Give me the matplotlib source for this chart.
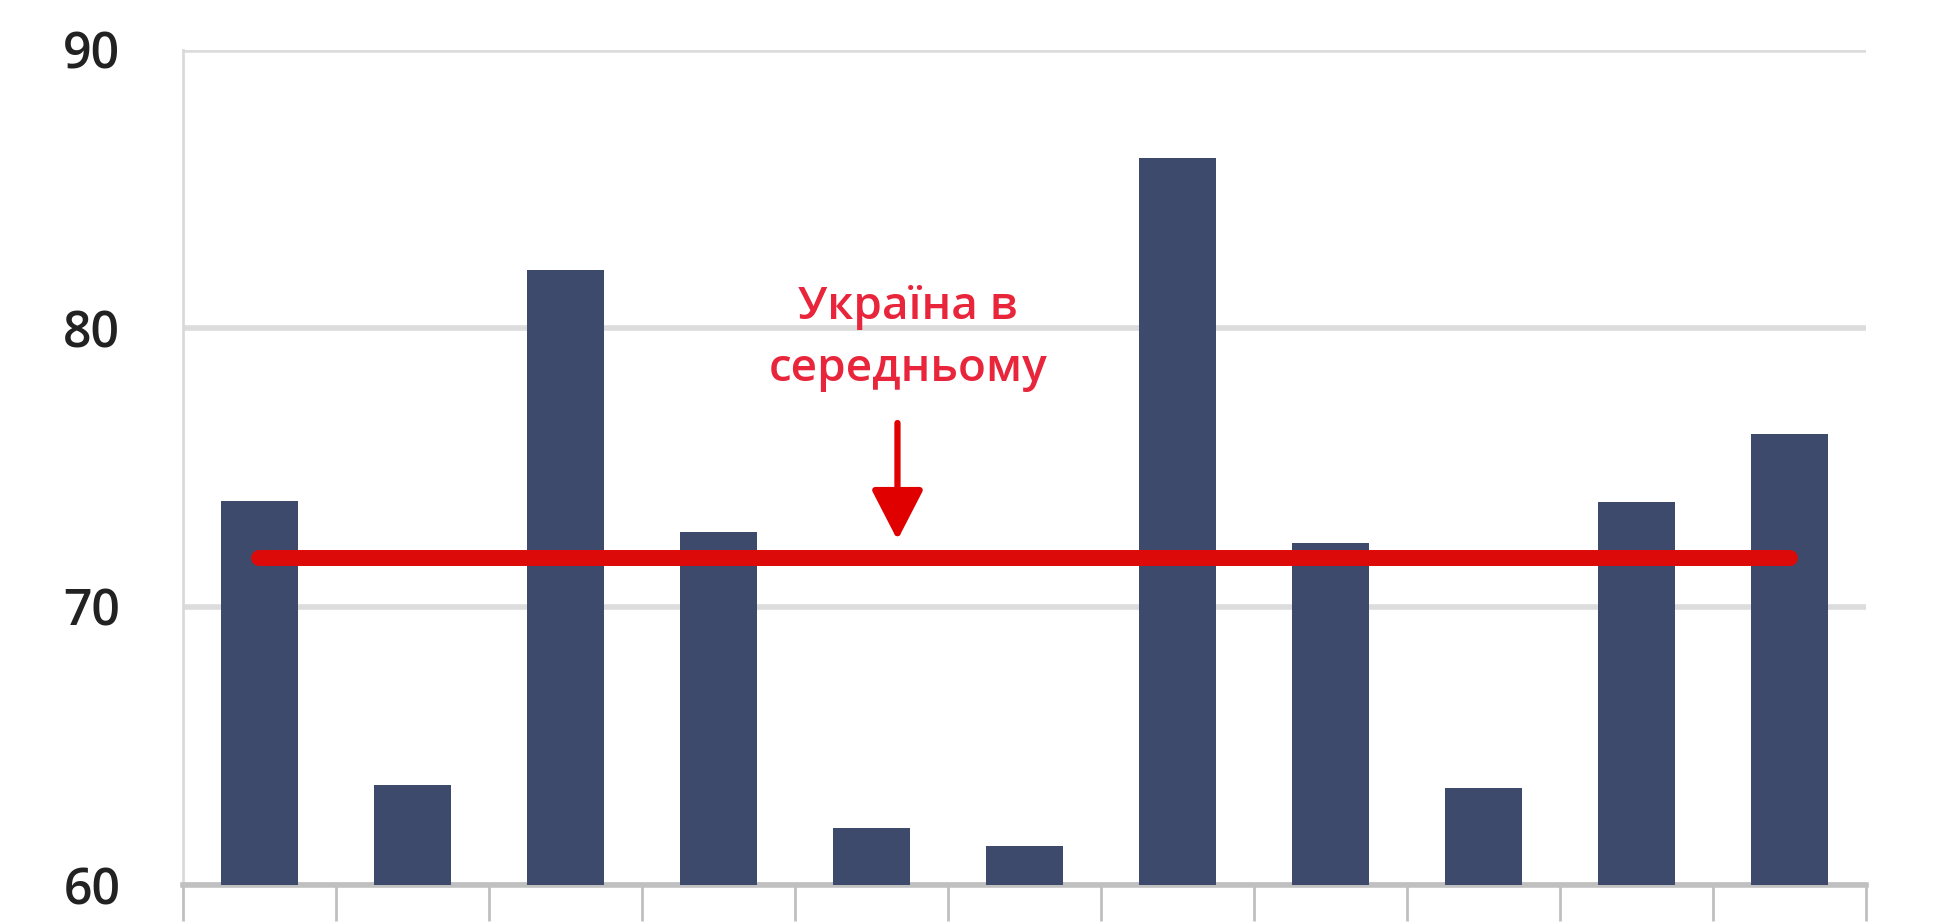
import matplotlib
matplotlib.use("Agg")
import matplotlib.pyplot as plt
import numpy as np

categories = ["1", "2", "3", "4", "5", "6", "7", "8", "9", "10", "11"]
values = [73.8, 63.6, 82.1, 72.7, 62.05, 61.4, 86.1, 72.3, 63.5, 73.75, 76.2]
ukraine_avg = 71.75
yticks = [60, 70, 80, 90]
annot_text = "Україна в\nсередньому"

fig = plt.figure(figsize=(19.44, 9.24), dpi=100)
ax = fig.add_axes([0.094, 0.042, 0.866, 0.904])

x = np.arange(len(categories))
ax.bar(x, [v - 60 for v in values], bottom=60, width=0.5, color="#3d4a6b", zorder=3)
ax.plot([x[0], x[-1]], [ukraine_avg, ukraine_avg], color="#dd0a0a", lw=11.5,
        solid_capstyle="round", zorder=4)

ax.set_xlim(-0.5, len(categories) - 0.5)
ax.set_ylim(60, 90)
ax.set_yticks(yticks)
ax.set_yticklabels([str(t) for t in yticks], fontsize=36, fontweight="semibold",
                   color="#222222", family="Open Sans")
ax.grid(axis="y", color="#dcdcdc", lw=4, zorder=0)
ax.set_xticks(np.arange(len(categories) + 1) - 0.5)
ax.set_xticklabels([])
ax.tick_params(axis="x", length=26, width=2, color="#c0c0c0", direction="out")
ax.tick_params(axis="y", length=0, pad=86)
for lab in ax.get_yticklabels():
    lab.set_horizontalalignment("left")
for s in ["top", "right"]:
    ax.spines[s].set_visible(False)
ax.spines["left"].set_color("#d9d9d9")
ax.spines["left"].set_linewidth(2)
ax.spines["bottom"].set_color("#c0c0c0")
ax.spines["bottom"].set_linewidth(4)

ax.annotate("", xy=(4.17, 72.4), xytext=(4.17, 76.6),
            arrowprops=dict(arrowstyle="-|>,head_length=1.55,head_width=0.8",
                            mutation_scale=20, color="#e00000", lw=4.5,
                            shrinkA=0, shrinkB=0), zorder=5)
ax.text(4.24, 77.7, annot_text, ha="center", va="bottom", fontsize=33,
        color="#e8253a", family="Open Sans", fontweight="semibold", linespacing=1.5)

fig.savefig("out.png", dpi=100)
